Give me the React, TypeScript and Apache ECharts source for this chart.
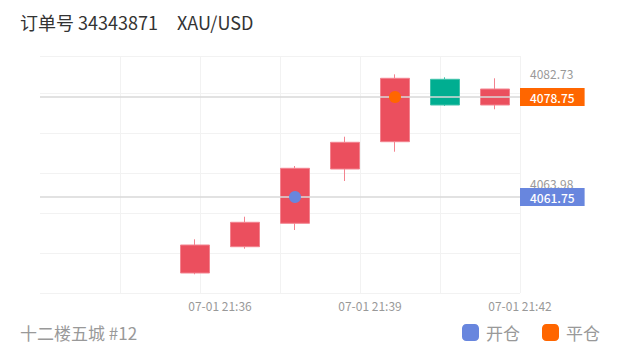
import React, { useEffect, useRef } from "react";
import * as echarts from "echarts";

// ---- data ----
const candleTimes = [
  "07-01 21:35:30",
  "07-01 21:36:30",
  "07-01 21:37:30",
  "07-01 21:38:30",
  "07-01 21:39:30",
  "07-01 21:40:30",
  "07-01 21:41:30",
];
const opens = [4048.83, 4053.3, 4057.28, 4066.51, 4071.15, 4081.76, 4077.39];
const closes = [4053.59, 4057.45, 4066.63, 4071.05, 4081.93, 4077.39, 4080.11];
const lows = [4048.61, 4052.96, 4056.14, 4064.47, 4069.45, 4077.22, 4076.66];
const highs = [4054.56, 4058.4, 4067.02, 4072.0, 4082.6, 4082.1, 4081.93];

const xTickLabels = ["07-01 21:36", "07-01 21:39", "07-01 21:42"];
const xRange = ["07-01 21:32:24", "07-01 21:42:00"];
const yTickLabels = [4063.98, 4082.73];
const yRange = [4045.43, 4085.72];
const yInterval = 6.8;

const openTime = "07-01 21:37:30";
const openPrice = 4061.75;
const closeTime = "07-01 21:39:30";
const closePrice = 4078.75;

const orderTitle = "订单号 34343871";
const symbolName = "XAU/USD";
const footerText = "十二楼五城 #12";
const legendNames = ["开仓", "平仓"];

const FONT = '"Noto Sans CJK SC", "Noto Sans", sans-serif';
const BLUE = "#6886de";
const ORANGE = "#ff6600";

function toMs(s: string): number {
  const [md, hms] = s.split(" ");
  const [mo, d] = md.split("-").map(Number);
  const parts = hms.split(":").map(Number);
  return Date.UTC(2025, mo - 1, d, parts[0], parts[1], parts[2] || 0);
}
const pad = (n: number) => (n < 10 ? "0" + n : "" + n);
function fmt(v: number): string {
  const dt = new Date(v);
  return (
    pad(dt.getUTCMonth() + 1) +
    "-" +
    pad(dt.getUTCDate()) +
    " " +
    pad(dt.getUTCHours()) +
    ":" +
    pad(dt.getUTCMinutes())
  );
}

export default function App() {
  const ref = useRef<HTMLDivElement>(null);
  useEffect(() => {
    document.body.style.margin = "0";
    if (!ref.current) return;
    const chart = echarts.init(ref.current, null, { renderer: "svg" });
    const candleData = candleTimes.map((t, i) => [
      toMs(t),
      opens[i],
      closes[i],
      lows[i],
      highs[i],
    ]);
    const option: any = {
      animation: false,
      textStyle: { fontFamily: FONT },
      title: [
        {
          text: orderTitle,
          left: 20,
          top: 13,
          padding: 0,
          textStyle: { fontSize: 18, color: "#333", fontWeight: "normal", fontFamily: FONT },
        },
        {
          text: symbolName,
          left: 177,
          top: 13,
          padding: 0,
          textStyle: { fontSize: 18, color: "#333", fontWeight: "normal", fontFamily: FONT },
        },
        {
          text: footerText,
          left: 20,
          bottom: 11,
          padding: 0,
          textStyle: { fontSize: 17, color: "#999", fontWeight: "normal", fontFamily: FONT },
        },
      ],
      legend: {
        data: legendNames,
        right: 20,
        bottom: 11,
        padding: 0,
        icon: "roundRect",
        itemWidth: 17,
        itemHeight: 17,
        itemGap: 22,
        itemStyle: { opacity: 1 },
        textStyle: { fontSize: 17, color: "#999", fontFamily: FONT, padding: [0, 0, 0, 2] },
      },
      grid: { left: 40, right: 100, top: 56, bottom: 59, outerBoundsMode: "none" },
      xAxis: [
        {
          type: "value",
          min: toMs(xRange[0]),
          max: toMs(xRange[1]),
          axisLine: { show: false },
          axisTick: { show: false },
          splitLine: { show: false },
          axisLabel: {
            customValues: xTickLabels.map((t) => toMs(t)),
            formatter: (v: number) => fmt(v),
            color: "#999",
            fontSize: 12,
            margin: 6,
            fontFamily: FONT,
          },
        },
        {
          type: "value",
          position: "top",
          min: 0,
          max: 6,
          interval: 1,
          axisLine: { show: false },
          axisTick: { show: false },
          axisLabel: { show: false },
          splitLine: { show: true, showMinLine: false, lineStyle: { color: "#f2f2f2", width: 1 } },
        },
      ],
      yAxis: {
        type: "value",
        position: "right",
        min: yRange[0],
        max: yRange[1],
        interval: yInterval,
        axisLine: { show: false },
        axisTick: { show: false },
        splitLine: { show: true, lineStyle: { color: "#f2f2f2", width: 1 } },
        axisLabel: {
          customValues: yTickLabels,
          formatter: (v: number) => v.toFixed(2),
          color: "#999",
          fontSize: 12,
          margin: 10,
          fontFamily: FONT,
        },
      },
      series: [
        {
          type: "candlestick",
          xAxisIndex: 0,
          yAxisIndex: 0,
          data: candleData,
          encode: { x: 0, y: [1, 2, 3, 4] },
          barWidth: 30,
          z: 2,
          itemStyle: {
            color: "#eb4f5e",
            color0: "#00ae91",
            borderColor: "#f3838f",
            borderColor0: "#40c2aa",
            borderWidth: 1,
          },
        },
        {
          name: legendNames[0],
          type: "scatter",
          xAxisIndex: 0,
          yAxisIndex: 0,
          z: 10,
          symbolSize: 12,
          itemStyle: { color: BLUE, opacity: 1 },
          data: [[toMs(openTime), openPrice]],
          markLine: {
            silent: true,
            z: 5,
            symbol: ["none", "none"],
            lineStyle: { color: "#d8d8d8", width: 1.5, type: "solid" },
            label: {
              position: "end",
              distance: 0,
              formatter: () => openPrice.toFixed(2),
              backgroundColor: BLUE,
              color: "#fff",
              fontSize: 12,
              fontWeight: 500,
              padding: [3, 10],
              fontFamily: FONT,
            },
            data: [{ yAxis: openPrice }],
          },
        },
        {
          name: legendNames[1],
          type: "scatter",
          xAxisIndex: 0,
          yAxisIndex: 0,
          z: 10,
          symbolSize: 12,
          itemStyle: { color: ORANGE, opacity: 1 },
          data: [[toMs(closeTime), closePrice]],
          markLine: {
            silent: true,
            z: 5,
            symbol: ["none", "none"],
            lineStyle: { color: "#d8d8d8", width: 1.5, type: "solid" },
            label: {
              position: "end",
              distance: 0,
              formatter: () => closePrice.toFixed(2),
              backgroundColor: ORANGE,
              color: "#fff",
              fontSize: 12,
              fontWeight: 500,
              padding: [3, 10],
              fontFamily: FONT,
            },
            data: [{ yAxis: closePrice }],
          },
        },
      ],
    };
    chart.setOption(option);
    return () => chart.dispose();
  }, []);
  return <div ref={ref} style={{ width: 620, height: 352 }} />;
}
